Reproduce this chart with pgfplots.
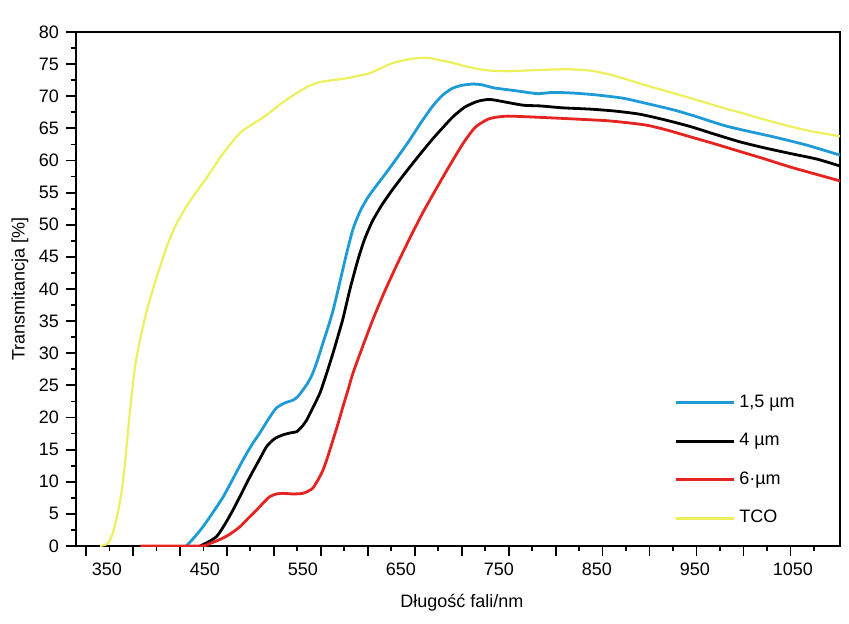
\documentclass[border=0pt]{standalone}
\usepackage{fontspec}
\setmainfont{Liberation Sans}
\usepackage{pgfplots}
\pgfplotsset{compat=1.18}
\definecolor{cblue}{HTML}{1E9BD7}
\definecolor{cred}{HTML}{E52421}
\definecolor{cyel}{HTML}{EDF05C}

\begin{document}
\begin{tikzpicture}
\useasboundingbox (-38pt,-38.5pt) rectangle (386.5pt,273pt);
\begin{axis}[
  at={(0,0)}, anchor=south west,
  scale only axis, width=382pt, height=257pt,
  xmin=318.4, xmax=1098, ymin=0, ymax=80,
  axis line style={line width=0.9pt},
  every tick/.style={black, line width=0.9pt},
  tick align=outside, tick pos=left,
  major tick length=5pt, minor tick length=2.5pt,
  xtick={328.6,376.52,...,1050}, xticklabels={},
  minor xtick={352.6,400.52,...,1075},
  extra x ticks={350,450,550,650,750,850,950,1050},
  extra x tick labels={350,450,550,650,750,850,950,1050},
  extra x tick style={tick style={draw=none}},
  ytick={0,5,...,80}, minor y tick num=1,
  /pgf/number format/assume math mode=true,
  tick label style={font=\fontsize{9}{10}\selectfont},
  label style={font=\fontsize{9}{10}\selectfont},
  xlabel={Długość fali/nm},
  xlabel style={at={(axis description cs:0.505,0)}, anchor=center, yshift=-28.5pt},
  ylabel={Transmitancja [\%]},
  ylabel style={at={(axis description cs:-0.0733,0.5)}, anchor=center},
  legend style={at={(rel axis cs:0.775,0.31)}, anchor=north west, draw=none, fill=none,
    font=\fontsize{9}{10}\selectfont, row sep=7.5pt},
  legend cell align=left,
  legend image code/.code={\draw[#1, line width=1.4pt] (0pt,0pt) -- (29pt,0pt);},
]
\addplot[cblue, line width=1.4pt, smooth, tension=0.4] coordinates {
(431,0) (440,1.5) (448,3.0) (458,5.2) (468.4,7.6) (478,10.3) (488.8,13.4) (498,15.8)
(506,17.6) (515,19.8) (523,21.5) (532,22.3) (539.8,22.7) (545,23.3) (550,24.3)
(555,25.4) (560,26.9) (565,29) (570.4,31.6) (575.5,34) (580.6,36.6) (586,40)
(594,45.2) (601,49.3) (608,52) (616,54.2) (625,56.1) (635,58.1) (646,60.4) (658,63)
(670,65.8) (682,68.4) (692,70.1) (702,71.2) (712,71.7) (723.5,71.9) (732,71.8)
(745,71.3) (760,71.0) (774.5,70.7) (790,70.4) (805,70.6) (825.5,70.5) (850,70.2)
(876.5,69.7) (900,68.9) (927.6,67.9) (950,66.9) (978.6,65.5) (1000,64.7)
(1029.6,63.7) (1064,62.4) (1101,60.7)
};
\addlegendentry{1,5 µm}
\addplot[black, line width=1.4pt, smooth, tension=0.4] coordinates {
(445,0) (453,0.6) (462,1.5) (470,3.3) (478.6,5.6) (487,8.1) (496,10.8) (505,13.3)
(513,15.5) (521,16.7) (529.6,17.3) (537,17.6) (543.6,17.8) (549,18.6) (553.8,19.6)
(560,21.5) (567.3,23.8) (574,26.8) (580.6,30) (586,32.8) (591,35.5) (598,40)
(606,44.5) (613,47.8) (621,50.6) (631,53.2) (642,55.6) (655,58.2) (668,60.7)
(682,63.3) (692,65) (703,66.8) (715,68.3) (728,69.2) (740.8,69.5) (760,69.0)
(775,68.6) (791.8,68.5) (815,68.2) (842.9,68.0) (868,67.7) (893.9,67.2) (920,66.3)
(945,65.3) (970,64.1) (996,62.9) (1020,62) (1047,61.1) (1075,60.2) (1101,59)
};
\addlegendentry{4 µm}
\addplot[cred, line width=1.4pt, smooth, tension=0.4] coordinates {
(384,0) (445,0) (455,0.4) (465,1) (475,1.8) (485.7,3) (494,4.3) (502.7,5.6) (510,6.8)
(516.3,7.7) (523,8.1) (529.6,8.2) (540,8.1) (550,8.2) (556,8.6) (560,9) (565,10.2)
(570.4,11.8) (575.5,14) (580.6,16.5) (585.7,19) (590.8,21.7) (596,24.3) (601,26.9)
(612,31.5) (622,35.5) (633,39.5) (645,43.5) (658,47.6) (672,51.8) (686,55.6)
(700,59.3) (714,62.8) (726,65.2) (740,66.5) (757,66.9)
(780,66.8) (808.8,66.6) (835,66.4) (859.9,66.2) (880,65.9) (900.7,65.5) (920,64.8)
(945,63.7) (970,62.6) (996,61.4) (1020,60.3) (1047,59) (1075,57.8) (1101,56.7)
};
\addlegendentry{6·µm}
\addplot[cyel, line width=1.1pt, smooth, tension=0.4] coordinates {
(343,0) (350,0.3) (353,0.9) (357,2.5) (361,5.1) (365,8.5) (368,12.3) (373.5,21)
(378.6,27.9) (383.7,32) (390,36.3) (397,40) (404,43.4) (412,47) (421.4,50.3)
(433,53.3) (445,55.9) (451.7,57.3) (468,61) (485.7,64.3) (500,65.8) (513,67.1)
(528,68.9) (543.6,70.5) (556,71.6) (567.3,72.2) (580,72.5) (594.6,72.8) (607,73.2)
(618.4,73.6) (630,74.4) (642,75.2) (660,75.8) (676,76) (690,75.6) (700,75.3)
(715,74.7) (730.6,74.2) (740.8,74.0) (760,73.9) (791.8,74.1) (820,74.2) (842.9,74.0)
(860,73.5) (876.5,72.8) (900,71.7) (927.6,70.5) (950,69.5) (978.6,68.2) (1000,67.3)
(1029.6,66) (1064,64.7) (1101,63.7)
};
\addlegendentry{TCO}
\end{axis}
\end{tikzpicture}
\end{document}
